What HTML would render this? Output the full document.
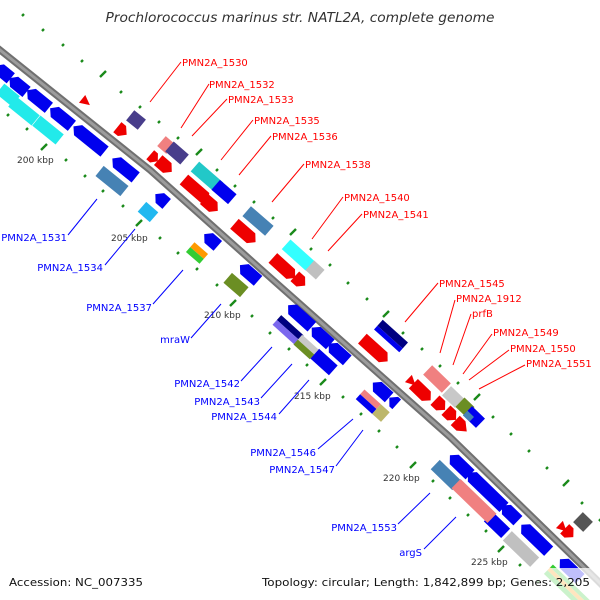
<!DOCTYPE html>
<html><head><meta charset="utf-8"><style>
html,body{margin:0;padding:0;background:#fff;}
svg{display:block;font-family:"DejaVu Sans","Liberation Sans",sans-serif;}
</style></head><body>
<svg width="600" height="600" viewBox="0 0 600 600" xmlns="http://www.w3.org/2000/svg">
<rect width="600" height="600" fill="#fff"/>
<text x="300" y="22" text-anchor="middle" font-size="13" font-style="italic" fill="#333" textLength="389" lengthAdjust="spacingAndGlyphs">Prochlorococcus marinus str. NATL2A, complete genome</text>

<g fill="none" stroke="#1a8a1a" stroke-width="2.4">
<path d="M22,16 l2,-2 M42,31 l2,-2 M62,46 l2,-2 M81,62 l2,-2 M100,77 l6,-6 M120,93 l2,-2 M139,108 l2,-2 M158,123 l2,-2 M177,139 l2,-2 M196,155 l6,-6 M216,171 l2,-2 M234,187 l2,-2 M253,203 l2,-2 M272,219 l2,-2 M290,235 l6,-6 M310,250 l2,-2 M329,266 l2,-2 M347,284 l2,-2 M366,300 l2,-2 M383,317 l6,-6 M402,334 l2,-2 M421,350 l2,-2 M439,367 l2,-2 M457,384 l2,-2 M474,400 l6,-6 M492,418 l2,-2 M510,435 l2,-2 M528,452 l2,-2 M546,469 l2,-2 M563,486 l6,-6 M581,504 l2,-2 M599,521 l2,-2"/>
<path d="M7,116 l2,-2 M26,130 l2,-2 M41,150 l6,-6 M65,161 l2,-2 M84,177 l2,-2 M102,192 l2,-2 M122,207 l2,-2 M136,226 l6,-6 M159,239 l2,-2 M177,254 l2,-2 M196,270 l2,-2 M216,286 l2,-2 M230,306 l6,-6 M251,317 l2,-2 M269,334 l2,-2 M288,350 l2,-2 M306,366 l2,-2 M320,385 l6,-6 M342,398 l2,-2 M360,415 l2,-2 M378,432 l2,-2 M396,448 l2,-2 M410,468 l6,-6 M432,482 l2,-2 M449,499 l2,-2 M467,516 l2,-2 M485,532 l2,-2 M498,552 l6,-6 M519,566 l2,-2 M537,583 l2,-2"/>
</g>

<g font-size="9" fill="#333">
<text x="17" y="163">200 kbp</text>
<text x="111" y="241">205 kbp</text>
<text x="204" y="318">210 kbp</text>
<text x="294" y="399">215 kbp</text>
<text x="383" y="481">220 kbp</text>
<text x="471" y="565">225 kbp</text>
</g>

<polyline points="-10,42 0,50 150,170 273,280 450,437 597,580 612,595" fill="none" stroke="#707070" stroke-width="7" stroke-linejoin="round"/>
<polyline points="-10,42 0,50 150,170 273,280 450,437 597,580 612,595" fill="none" stroke="#9c9c9c" stroke-width="3" stroke-linejoin="round"/>

<g fill="#0000ee">
<polygon transform="translate(3,72) rotate(39)" points="-10,0 -4,-6.5 10,-6.5 10,6.5 -4,6.5"/>
<polygon transform="translate(18,85) rotate(39)" points="-11,0 -5,-6.5 11,-6.5 11,6.5 -5,6.5"/>
<polygon transform="translate(38,99) rotate(39)" points="-14,0 -8,-6.5 14,-6.5 14,6.5 -8,6.5"/>
<polygon transform="translate(61,117) rotate(39)" points="-14,0 -8,-6.5 14,-6.5 14,6.5 -8,6.5"/>
<polygon transform="translate(89,139) rotate(39)" points="-20,0 -14,-6.5 20,-6.5 20,6.5 -14,6.5"/>
<polygon transform="translate(124,168) rotate(39)" points="-15,0 -9,-6.5 15,-6.5 15,6.5 -9,6.5"/>
<polygon transform="translate(161,199) rotate(41)" points="-7.5,0 -1.5,-6.5 7.5,-6.5 7.5,6.5 -1.5,6.5"/>
<polygon transform="translate(211,240) rotate(41)" points="-9,0 -3,-6.5 9,-6.5 9,6.5 -3,6.5"/>
<polygon transform="translate(249,273) rotate(41)" points="-12,0 -6,-6.5 12,-6.5 12,6.5 -6,6.5"/>
<polygon transform="translate(300,316) rotate(42)" points="-16,0 -10,-6.5 16,-6.5 16,6.5 -10,6.5"/>
<polygon transform="translate(321,336) rotate(42)" points="-12.5,0 -6.5,-6.5 12.5,-6.5 12.5,6.5 -6.5,6.5"/>
<polygon transform="translate(338,352) rotate(42)" points="-12.5,0 -6.5,-6.5 12.5,-6.5 12.5,6.5 -6.5,6.5"/>
<polygon transform="translate(381,390) rotate(42)" points="-11,0 -5,-6.5 11,-6.5 11,6.5 -5,6.5"/>
<polygon transform="translate(393,401) rotate(42)" points="-5,0 1,-6.5 5,-6.5 5,6.5 1,6.5"/>
<polygon transform="translate(460,465) rotate(44)" points="-14,0 -8,-6.5 14,-6.5 14,6.5 -8,6.5"/>
<polygon transform="translate(486,490) rotate(44)" points="-25,0 -19,-6.5 25,-6.5 25,6.5 -19,6.5"/>
<polygon transform="translate(510,513) rotate(44)" points="-11,0 -5,-6.5 11,-6.5 11,6.5 -5,6.5"/>
<polygon transform="translate(535,538) rotate(44)" points="-19,0 -13,-6.5 19,-6.5 19,6.5 -13,6.5"/>
<polygon transform="translate(570,569) rotate(44)" points="-14,0 -8,-6.5 14,-6.5 14,6.5 -8,6.5"/>
<rect transform="translate(324,362) rotate(42)" x="-12.5" y="-6.5" width="25" height="13"/>
<rect transform="translate(497,525) rotate(44)" x="-12" y="-6.5" width="24" height="13"/>
</g>
<g fill="#22eaea">
<rect transform="translate(8,95) rotate(39)" x="-10" y="-6.5" width="20" height="13"/>
<rect transform="translate(24,111) rotate(39)" x="-15" y="-6.5" width="30" height="13"/>
<rect transform="translate(48,130) rotate(39)" x="-15" y="-6.5" width="30" height="13"/>
</g>
<rect transform="translate(112,181) rotate(39)" x="-16" y="-6.5" width="32" height="13" fill="#4682b4"/>
<rect transform="translate(148,212) rotate(41)" x="-8" y="-6.5" width="16" height="13" fill="#22b8f0"/>
<g transform="translate(197,253) rotate(41)"><rect x="-9" y="-6.5" width="18" height="6.5" fill="#ff9900"/><rect x="-9" y="0" width="18" height="6.5" fill="#33cc33"/></g>
<rect transform="translate(236,285) rotate(41)" x="-11" y="-6.5" width="22" height="13" fill="#6b8e23"/>
<g transform="translate(288,330) rotate(42)"><rect x="-15" y="-6.5" width="30" height="6.5" fill="#000080"/><rect x="-15" y="0" width="30" height="6.5" fill="#7b68ee"/></g>
<g transform="translate(306,347) rotate(42)"><rect x="-11" y="-6.5" width="22" height="6.5" fill="#c8c8c8"/><rect x="-11" y="0" width="22" height="6.5" fill="#6b8e23"/></g>
<g transform="translate(372,405) rotate(42)"><rect x="-16" y="-6.5" width="22" height="6.5" fill="#f08080"/><rect x="-16" y="0" width="22" height="6.5" fill="#0000ee"/><rect x="6" y="-6.5" width="12" height="13" fill="#bdb76b"/></g>
<rect transform="translate(446,475) rotate(44)" x="-15" y="-6.5" width="30" height="13" fill="#4682b4"/>
<rect transform="translate(474,501) rotate(44)" x="-25" y="-6.5" width="50" height="13" fill="#f08080"/>
<rect transform="translate(521,549) rotate(44)" x="-19" y="-6.5" width="38" height="13" fill="#c0c0c0"/>
<g transform="translate(570,590) rotate(44)"><rect x="-30" y="-6.5" width="60" height="4" fill="#33cc33"/><rect x="-30" y="-2.5" width="60" height="4" fill="#ff9900"/><rect x="-30" y="1.5" width="60" height="5" fill="#33cc33"/></g>

<g fill="#ee0000">
<polygon transform="translate(86,102) rotate(39)" points="-5,-5 5,0 -5,5"/>
<polygon transform="translate(122,131) rotate(39)" points="-6,-6.5 0,-6.5 6,0 0,6.5 -6,6.5"/>
<polygon transform="translate(154,158) rotate(41)" points="-5,-6 0,-6 5,0 0,6 -5,6"/>
<polygon transform="translate(165,166) rotate(41)" points="-9,-6.5 3,-6.5 9,0 3,6.5 -9,6.5"/>
<polygon transform="translate(196,190) rotate(41)" points="-16,-6.5 12,-6.5 16,0 12,6.5 -16,6.5"/>
<polygon transform="translate(211,205) rotate(41)" points="-9,-6.5 3,-6.5 9,0 3,6.5 -9,6.5"/>
<polygon transform="translate(245,233) rotate(41)" points="-14,-6.5 8,-6.5 14,0 8,6.5 -14,6.5"/>
<polygon transform="translate(284,268) rotate(42)" points="-15,-6.5 9,-6.5 15,0 9,6.5 -15,6.5"/>
<polygon transform="translate(300,281) rotate(42)" points="-7,-6.5 1,-6.5 7,0 1,6.5 -7,6.5"/>
<polygon transform="translate(375,350) rotate(42)" points="-17,-6.5 11,-6.5 17,0 11,6.5 -17,6.5"/>
<polygon transform="translate(412,382) rotate(44)" points="-5,-5 5,0 -5,5"/>
<polygon transform="translate(422,392) rotate(44)" points="-12,-6.5 6,-6.5 12,0 6,6.5 -12,6.5"/>
<polygon transform="translate(440,405) rotate(44)" points="-7,-6.5 1,-6.5 7,0 1,6.5 -7,6.5"/>
<polygon transform="translate(451,415) rotate(44)" points="-7,-6.5 1,-6.5 7,0 1,6.5 -7,6.5"/>
<polygon transform="translate(461,426) rotate(44)" points="-8,-6.5 0,-6.5 8,0 0,6.5 -8,6.5"/>
<polygon transform="translate(563,528) rotate(44)" points="-5,-5 5,0 -5,5"/>
<polygon transform="translate(569,533) rotate(44)" points="-6,-6.5 0,-6.5 6,0 0,6.5 -6,6.5"/>
</g>
<rect transform="translate(136,120) rotate(39)" x="-7.5" y="-6.5" width="15" height="13" fill="#483d8b"/>
<rect transform="translate(166,145) rotate(41)" x="-6" y="-6.5" width="12" height="13" fill="#f08080"/>
<rect transform="translate(177,153) rotate(41)" x="-10" y="-6.5" width="20" height="13" fill="#483d8b"/>
<rect transform="translate(207,177) rotate(41)" x="-16" y="-6.5" width="32" height="13" fill="#22c8c8"/>
<rect transform="translate(224,192) rotate(41)" x="-11" y="-6.5" width="22" height="13" fill="#0000ee"/>
<rect transform="translate(258,221) rotate(41)" x="-15" y="-6.5" width="30" height="13" fill="#4682b4"/>
<rect transform="translate(298,255) rotate(42)" x="-16" y="-6.5" width="32" height="13" fill="#33ffff"/>
<rect transform="translate(315,270) rotate(42)" x="-7" y="-6.5" width="14" height="13" fill="#c0c0c0"/>
<g transform="translate(391,336) rotate(42)"><rect x="-17" y="-6.5" width="34" height="8" fill="#000080"/><rect x="-17" y="1.5" width="34" height="5" fill="#0000ee"/></g>
<rect transform="translate(437,379) rotate(44)" x="-13" y="-6.5" width="26" height="13" fill="#f08080"/>
<rect transform="translate(453,397) rotate(44)" x="-9" y="-6.5" width="18" height="13" fill="#c8c8c8"/>
<rect transform="translate(465,407) rotate(44)" x="-7" y="-6.5" width="14" height="13" fill="#6b8e23"/>
<g transform="translate(474,417) rotate(44)"><rect x="-9" y="-6.5" width="18" height="13" fill="#0000ee"/><rect x="-9" y="0" width="9" height="6.5" fill="#4682b4"/></g>
<rect transform="translate(583,522) rotate(44)" x="-7" y="-7" width="14" height="14" fill="#555"/>

<g stroke="#ff0000" stroke-width="1">
<line x1="150" y1="102" x2="181" y2="62"/>
<line x1="181" y1="128" x2="209" y2="84"/>
<line x1="192" y1="136" x2="227" y2="99"/>
<line x1="221" y1="160" x2="253" y2="120"/>
<line x1="239" y1="175" x2="271" y2="136"/>
<line x1="272" y1="202" x2="304" y2="164"/>
<line x1="312" y1="239" x2="343" y2="197"/>
<line x1="328" y1="251" x2="362" y2="214"/>
<line x1="405" y1="322" x2="438" y2="283"/>
<line x1="440" y1="353" x2="455" y2="300"/>
<line x1="453" y1="365" x2="471" y2="314"/>
<line x1="463" y1="374" x2="492" y2="334"/>
<line x1="469" y1="380" x2="509" y2="350"/>
<line x1="479" y1="389" x2="525" y2="365"/>
</g>
<g fill="#ff0000" font-size="10">
<text x="182" y="66">PMN2A_1530</text>
<text x="209" y="88">PMN2A_1532</text>
<text x="228" y="103">PMN2A_1533</text>
<text x="254" y="124">PMN2A_1535</text>
<text x="272" y="140">PMN2A_1536</text>
<text x="305" y="168">PMN2A_1538</text>
<text x="344" y="201">PMN2A_1540</text>
<text x="363" y="218">PMN2A_1541</text>
<text x="439" y="287">PMN2A_1545</text>
<text x="456" y="302">PMN2A_1912</text>
<text x="472" y="317">prfB</text>
<text x="493" y="336">PMN2A_1549</text>
<text x="510" y="352">PMN2A_1550</text>
<text x="526" y="367">PMN2A_1551</text>
</g>

<g stroke="#0000ff" stroke-width="1">
<line x1="68" y1="235" x2="97" y2="199"/>
<line x1="105" y1="265" x2="135" y2="229"/>
<line x1="153" y1="304" x2="183" y2="270"/>
<line x1="191" y1="338" x2="221" y2="304"/>
<line x1="241" y1="381" x2="272" y2="347"/>
<line x1="261" y1="398" x2="292" y2="364"/>
<line x1="279" y1="414" x2="309" y2="380"/>
<line x1="318" y1="449" x2="353" y2="419"/>
<line x1="336" y1="466" x2="363" y2="430"/>
<line x1="398" y1="524" x2="430" y2="493"/>
<line x1="424" y1="549" x2="456" y2="517"/>
</g>
<g fill="#0000ff" font-size="10" text-anchor="end">
<text x="67" y="241">PMN2A_1531</text>
<text x="103" y="271">PMN2A_1534</text>
<text x="152" y="311">PMN2A_1537</text>
<text x="190" y="343">mraW</text>
<text x="240" y="387">PMN2A_1542</text>
<text x="260" y="405">PMN2A_1543</text>
<text x="277" y="420">PMN2A_1544</text>
<text x="316" y="456">PMN2A_1546</text>
<text x="335" y="473">PMN2A_1547</text>
<text x="397" y="531">PMN2A_1553</text>
<text x="422" y="556">argS</text>
</g>

<rect x="258" y="568" width="342" height="32" fill="#fff" fill-opacity="0.75"/>
<text x="9" y="586" font-size="11" fill="#111" textLength="134" lengthAdjust="spacingAndGlyphs">Accession: NC_007335</text>
<text x="262" y="586" font-size="11" fill="#111" textLength="328" lengthAdjust="spacingAndGlyphs">Topology: circular; Length: 1,842,899 bp; Genes: 2,205</text>
</svg>
</body></html>
